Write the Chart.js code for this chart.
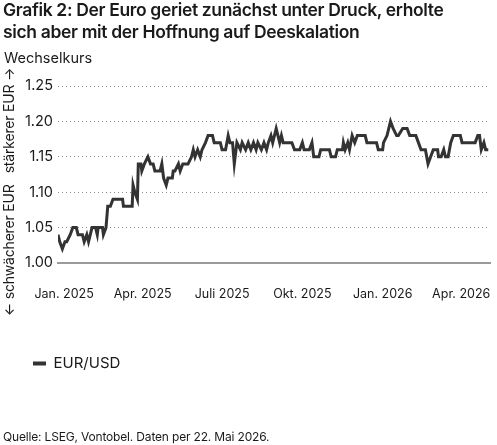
<!DOCTYPE html>
<html lang="de">
<head>
<meta charset="utf-8">
<script src="https://cdn.jsdelivr.net/npm/chart.js@4.4.1/dist/chart.umd.min.js"></script>
<style>
  body { margin: 0; width: 497px; height: 445px; background: #fff; font-family: Inter, sans-serif; color: #1a1a1a; position: relative; overflow: hidden; }
  #titel { position: absolute; left: 3px; top: -1px; font-size: 17.5px; font-weight: 600; line-height: 21.5px; letter-spacing: -0.35px; white-space: nowrap; }
  #einheit { position: absolute; left: 4px; top: 49px; font-size: 14.5px; }
  #quelle { position: absolute; left: 3px; top: 429px; font-size: 12px; letter-spacing: -0.17px; }
  canvas { position: absolute; left: 0; top: 0; }
</style>
</head>
<body>
<canvas id="chart" width="497" height="445"></canvas>
<div id="titel">Grafik 2: Der Euro geriet zunächst unter Druck, erholte<br>sich aber mit der Hoffnung auf Deeskalation</div>
<div id="einheit">Wechselkurs</div>
<div id="quelle">Quelle: LSEG, Vontobel. Daten per 22. Mai 2026.</div>
<script>
// Tage seit 1. Jan. 2025
const tage = [
  -7, -5, -2, 1, 3, 7, 10, 14, 16, 18,
  21, 23, 26, 28, 30, 32, 36, 38, 39, 44,
  45, 48, 50, 53, 56, 67, 68, 78, 79, 81,
  84, 85, 88, 89, 92, 96, 99, 102, 104, 110,
  112, 114, 117, 119, 124, 125, 127, 131, 133, 136,
  142, 146, 148, 150, 153, 156, 158, 162, 165, 170,
  172, 179, 181, 185, 188, 190, 193, 195, 198, 202,
  204, 208, 211, 214, 217, 220, 222, 226, 229, 232,
  234, 237, 239, 241, 243, 245, 247, 249, 251, 261,
  264, 270, 273, 275, 281, 284, 286, 292, 294, 304,
  306, 311, 313, 319, 320, 322, 325, 327, 330, 333,
  336, 345, 347, 356, 358, 360, 365, 366, 370, 374,
  377, 381, 383, 388, 393, 396, 403, 406, 409, 414,
  417, 420, 423, 428, 429, 432, 435, 437, 440, 443,
  446, 454, 456, 471, 474, 476, 478, 481, 483, 486,
]
const eurUsd = [
  1.04, 1.03, 1.02, 1.03, 1.03, 1.04, 1.05, 1.05, 1.04, 1.04,
  1.04, 1.03, 1.04, 1.03, 1.04, 1.05, 1.05, 1.04, 1.05, 1.05,
  1.04, 1.05, 1.08, 1.08, 1.09, 1.09, 1.08, 1.08, 1.11, 1.10,
  1.09, 1.14, 1.14, 1.13, 1.14, 1.15, 1.14, 1.14, 1.13, 1.13,
  1.14, 1.12, 1.11, 1.12, 1.12, 1.13, 1.13, 1.14, 1.13, 1.14,
  1.14, 1.15, 1.16, 1.15, 1.16, 1.15, 1.16, 1.17, 1.18, 1.18,
  1.17, 1.17, 1.16, 1.16, 1.18, 1.17, 1.17, 1.14, 1.17, 1.16,
  1.17, 1.16, 1.17, 1.16, 1.17, 1.16, 1.17, 1.16, 1.17, 1.16,
  1.17, 1.18, 1.17, 1.18, 1.19, 1.18, 1.17, 1.18, 1.17, 1.17,
  1.16, 1.16, 1.17, 1.16, 1.16, 1.17, 1.15, 1.15, 1.16, 1.16,
  1.15, 1.15, 1.16, 1.16, 1.17, 1.16, 1.17, 1.16, 1.18, 1.17,
  1.18, 1.18, 1.17, 1.17, 1.17, 1.16, 1.16, 1.17, 1.18, 1.20,
  1.19, 1.18, 1.18, 1.19, 1.19, 1.18, 1.18, 1.17, 1.16, 1.16,
  1.14, 1.15, 1.16, 1.16, 1.15, 1.15, 1.16, 1.15, 1.15, 1.17,
  1.18, 1.18, 1.17, 1.17, 1.18, 1.18, 1.16, 1.17, 1.16, 1.16,
]
// Achsenbeschriftung x (Quartalsanfang, Tage seit 1. Jan. 2025)
const tickTage = [0, 90, 181, 273, 365, 455]
const tickLabels = ['Jan. 2025', 'Apr. 2025', 'Juli 2025', 'Okt. 2025', 'Jan. 2026', 'Apr. 2026']
const yTicks = [1.0, 1.05, 1.1, 1.15, 1.2, 1.25]

const textFarbe = '#1a1a1a'

// vertikaler Achsentitel links
const achsenTitel = {
  id: 'achsenTitel',
  afterDraw(chart) {
    const ctx = chart.ctx
    ctx.save()
    ctx.translate(10, 192)
    ctx.rotate(-Math.PI / 2)
    ctx.font = '14px Inter'
    ctx.letterSpacing = '-0.2px'
    ctx.fillStyle = textFarbe
    ctx.textAlign = 'center'
    ctx.textBaseline = 'middle'
    ctx.fillText('← schwächerer EUR   stärkerer EUR →', 0, 0)
    ctx.restore()
  },
}

const ctx = document.getElementById('chart').getContext('2d')
new Chart(ctx, {
  type: 'line',
  data: {
    datasets: [
      {
        label: 'EUR/USD',
        data: tage.map((t, i) => ({ x: t, y: eurUsd[i] })),
        borderColor: '#333333',
        backgroundColor: '#333333',
        borderWidth: 3,
        pointRadius: 0,
        tension: 0,
        fill: false,
      },
    ],
  },
  options: {
    responsive: false,
    animation: false,
    layout: { padding: { left: 23, right: 7, top: 86, bottom: 64 } },
    plugins: {
      tooltip: { enabled: false },
      legend: {
        position: 'bottom',
        align: 'start',
        labels: {
          boxWidth: 13,
          boxHeight: 4,
          padding: 10,
          color: textFarbe,
          font: { family: 'Inter', size: 15 },
          generateLabels: (chart) =>
            Chart.defaults.plugins.legend.labels
              .generateLabels(chart)
              .map((l) => ({ ...l, lineWidth: 0, fillStyle: '#333333' })),
        },
      },
    },
    scales: {
      x: {
        type: 'linear',
        min: -7,
        max: 488,
        afterBuildTicks: (scale) => {
          scale.ticks = tickTage.map((v) => ({ value: v }))
        },
        afterFit: (scale) => {
          scale.height = 83
          scale.paddingLeft = 0
          scale.paddingRight = 0
        },
        ticks: {
          autoSkip: false,
          maxRotation: 0,
          padding: 24,
          color: textFarbe,
          font: { family: 'Inter', size: 12.5 },
          callback: (v, i) => tickLabels[i],
        },
        grid: { display: false, drawTicks: false },
        border: { display: true, color: '#9a9a9a', width: 2 },
      },
      y: {
        min: 1.0,
        max: 1.25,
        afterBuildTicks: (scale) => {
          scale.ticks = yTicks.map((v) => ({ value: v }))
        },
        afterFit: (scale) => {
          scale.width = 35
          scale.paddingTop = 0
          scale.paddingBottom = 0
        },
        ticks: {
          padding: 5,
          color: textFarbe,
          font: { family: 'Inter', size: 14.5 },
          callback: (v) => v.toFixed(2),
        },
        grid: { color: '#8a8a8a', lineWidth: 1, drawTicks: false },
        border: { display: false, dash: [1, 3] },
      },
    },
  },
  plugins: [achsenTitel],
})
</script>
</body>
</html>
